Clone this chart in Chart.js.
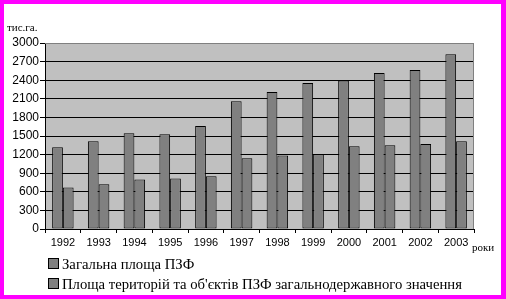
<!DOCTYPE html>
<html>
<head>
<meta charset="utf-8">
<script src="https://cdn.jsdelivr.net/npm/chart.js@4"></script>
<style>
html, body { margin: 0; padding: 0; background: #fff; }
</style>
</head>
<body>
<canvas id="myChart" width="506" height="299"></canvas>
<script>
var roky = ['1992', '1993', '1994', '1995', '1996', '1997', '1998', '1999', '2000', '2001', '2002', '2003'];
var zagalnaPlosha = [1320, 1415, 1545, 1530, 1660, 2060, 2210, 2355, 2395, 2515, 2565, 2820];
var derzhPlosha = [670, 720, 800, 815, 850, 1140, 1185, 1205, 1335, 1350, 1370, 1415];
var nazvy = ['Загальна площа ПЗФ', 'Площа територій та об\'єктів ПЗФ загальнодержавного значення'];

var oformlennia = {
    id: 'oformlennia',
    beforeDraw: function (chart) {
        var c = chart.ctx, a = chart.chartArea;
        c.save();
        c.fillStyle = '#fff';
        c.fillRect(0, 0, chart.width, chart.height);
        c.fillStyle = '#c0c0c0';
        c.fillRect(a.left, a.top, a.right - a.left, a.bottom - a.top);
        c.restore();
    },
    afterDraw: function (chart) {
        var c = chart.ctx, a = chart.chartArea;
        c.save();
        // сіра рамка зверху і справа
        c.strokeStyle = '#808080';
        c.lineWidth = 1;
        c.beginPath();
        c.moveTo(a.left, a.top + 0.5);
        c.lineTo(a.right - 0.5, a.top + 0.5);
        c.lineTo(a.right - 0.5, a.bottom);
        c.stroke();

        c.fillStyle = '#000';
        c.font = '11px "Liberation Serif"';
        c.textBaseline = 'alphabetic';
        c.textAlign = 'left';
        c.fillText('тис.га.', 7, 31);
        c.fillText('роки', 472, 251);

        // легенда
        c.font = '14.7px "Liberation Serif"';
        var ys = [264, 284];
        chart.data.datasets.forEach(function (ds, i) {
            c.fillStyle = ds.backgroundColor;
            c.fillRect(49, ys[i] - 5, 9, 9);
            c.strokeStyle = '#000';
            c.strokeRect(48.5, ys[i] - 5.5, 10, 10);
            c.fillStyle = '#000';
            c.textBaseline = 'middle';
            c.fillText(ds.label, 62, ys[i] + 1);
        });

        // рамка
        c.fillStyle = '#ff00ff';
        c.fillRect(0, 0, chart.width, 4);
        c.fillRect(0, 0, 4, chart.height);
        c.fillRect(501, 0, 5, chart.height);
        c.fillRect(0, 295, chart.width, 4);
        c.restore();
    }
};

var ctx = document.getElementById('myChart').getContext('2d');
Chart.defaults.color = '#000';

var myChart = new Chart(ctx, {
    type: 'bar',
    data: {
        labels: roky,
        datasets: [{
            label: nazvy[0],
            data: zagalnaPlosha,
            backgroundColor: '#808080',
            borderColor: '#000',
            borderWidth: 1,
            borderSkipped: false,
            barPercentage: 1,
            categoryPercentage: 0.6
        }, {
            label: nazvy[1],
            data: derzhPlosha,
            backgroundColor: '#808080',
            borderColor: '#000',
            borderWidth: 1,
            borderSkipped: false,
            barPercentage: 1,
            categoryPercentage: 0.6
        }]
    },
    options: {
        responsive: false,
        animation: false,
        layout: { padding: { left: 0, top: 43, right: 32, bottom: 0 } },
        plugins: {
            legend: { display: false },
            tooltip: { enabled: false }
        },
        scales: {
            x: {
                afterFit: function (s) { s.height = 70; },
                grid: { offset: true, drawOnChartArea: false, tickLength: 4, tickColor: '#000' },
                border: { color: '#000' },
                ticks: { font: { family: 'Liberation Sans', size: 11 }, padding: 3, maxRotation: 0 }
            },
            y: {
                min: 0,
                max: 3000,
                afterFit: function (s) { s.width = 45; },
                grid: {
                    color: function (c) { return c.tick && c.tick.value === 3000 ? '#808080' : '#000'; },
                    tickColor: '#000',
                    tickLength: 5
                },
                border: { color: '#000' },
                ticks: {
                    stepSize: 300,
                    font: { family: 'Liberation Sans', size: 12 },
                    padding: 1,
                    callback: function (v) { return String(v); }
                }
            }
        }
    },
    plugins: [oformlennia]
});
</script>
</body>
</html>
